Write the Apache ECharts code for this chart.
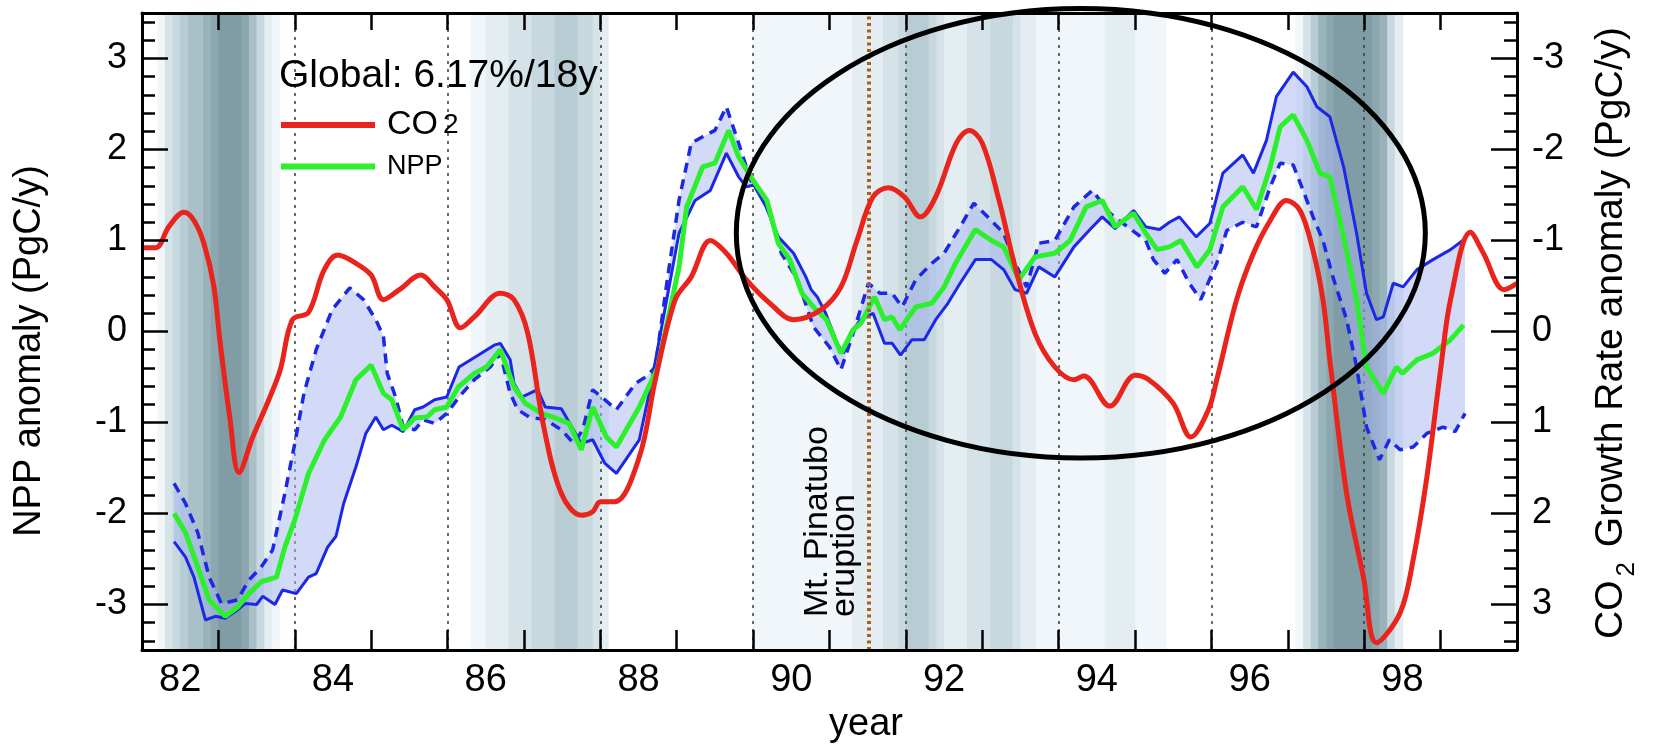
<!DOCTYPE html>
<html>
<head>
<meta charset="utf-8">
<title>Global NPP and CO2 growth rate anomaly</title>
<script src="https://cdn.jsdelivr.net/npm/echarts@6/dist/echarts.min.js"></script>
<style>
  html, body { margin: 0; padding: 0; background: #fff; }
  #chart { width: 1653px; height: 748px; }
</style>
</head>
<body>
<div id="chart"></div>
<script>
// values (years as 82..100, anomalies in PgC/y)
const co2Years = [82.00, 82.18, 82.35, 82.55, 82.68, 82.81, 82.94, 83.02, 83.15, 83.27, 83.45, 83.66, 83.81, 83.97, 84.18, 84.38, 84.56, 84.80, 85.00, 85.16, 85.37, 85.65, 85.83, 85.99, 86.17, 86.35, 86.69, 86.87, 87.05, 87.26, 87.49, 87.75, 87.90, 88.00, 88.19, 88.51, 88.72, 88.98, 89.19, 89.44, 89.65, 89.91, 90.22, 90.53, 90.89, 91.15, 91.36, 91.57, 91.77, 91.98, 92.19, 92.39, 92.66, 92.83, 93.00, 93.22, 93.43, 93.69, 93.95, 94.20, 94.33, 94.67, 95.00, 95.18, 95.50, 95.73, 95.96, 96.07, 96.33, 96.55, 96.77, 96.98, 97.16, 97.33, 97.46, 97.55, 97.77, 97.99, 98.16, 98.47, 98.64, 98.82, 99.00, 99.13, 99.39, 99.56, 99.83, 100.00];
// CO2 growth rate anomaly, right (inverted) axis
const co2Rate = [-0.92, -0.92, -1.15, -1.31, -1.22, -0.97, -0.50, 0.10, 0.95, 1.55, 1.16, 0.75, 0.42, -0.13, -0.21, -0.67, -0.84, -0.75, -0.62, -0.35, -0.46, -0.62, -0.49, -0.35, -0.04, -0.16, -0.42, -0.35, 0.02, 1.05, 1.78, 2.02, 1.98, 1.87, 1.87, 1.38, 0.53, -0.35, -0.60, -1.00, -0.86, -0.57, -0.31, -0.13, -0.24, -0.49, -1.00, -1.48, -1.58, -1.48, -1.26, -1.48, -2.07, -2.21, -2.07, -1.44, -0.71, 0.02, 0.39, 0.53, 0.49, 0.82, 0.48, 0.53, 0.79, 1.16, 0.86, 0.53, -0.35, -0.86, -1.22, -1.44, -1.33, -0.89, -0.35, 0.31, 1.78, 2.70, 3.42, 3.09, 2.51, 1.60, 0.42, -0.35, -1.09, -0.86, -0.46, -0.53];

const nppYears = [82.42, 82.57, 82.73, 82.88, 83.09, 83.25, 83.40, 83.56, 83.76, 83.87, 84.00, 84.18, 84.39, 84.60, 84.80, 85.00, 85.16, 85.27, 85.42, 85.57, 85.73, 85.83, 85.99, 86.14, 86.35, 86.51, 86.69, 86.87, 87.02, 87.23, 87.38, 87.59, 87.75, 87.90, 88.08, 88.21, 88.51, 88.75, 89.03, 89.13, 89.34, 89.50, 89.68, 89.81, 89.97, 90.18, 90.33, 90.48, 90.64, 90.79, 90.96, 91.15, 91.31, 91.41, 91.59, 91.72, 91.82, 91.92, 92.13, 92.34, 92.50, 92.65, 92.91, 93.12, 93.28, 93.48, 93.69, 93.95, 94.15, 94.36, 94.57, 94.74, 94.98, 95.14, 95.29, 95.45, 95.60, 95.81, 95.98, 96.15, 96.41, 96.59, 96.77, 96.90, 97.07, 97.25, 97.42, 97.55, 97.72, 97.90, 98.03, 98.25, 98.42, 98.50, 98.69, 98.90, 99.13, 99.30];
const nppAnomaly = [-2.00, -2.21, -2.59, -2.95, -3.13, -3.03, -2.88, -2.75, -2.70, -2.37, -2.07, -1.56, -1.19, -0.94, -0.53, -0.37, -0.68, -0.75, -1.08, -0.95, -0.94, -0.86, -0.83, -0.61, -0.46, -0.39, -0.20, -0.61, -0.79, -0.90, -0.94, -1.01, -1.30, -0.83, -1.16, -1.27, -0.83, -0.40, 0.71, 1.37, 1.81, 1.85, 2.21, 1.92, 1.70, 1.44, 0.97, 0.79, 0.42, 0.27, 0.13, -0.24, 0.02, 0.09, 0.38, 0.13, 0.16, 0.02, 0.27, 0.31, 0.49, 0.75, 1.12, 1.00, 0.93, 0.57, 0.82, 0.86, 1.00, 1.37, 1.44, 1.15, 1.30, 1.08, 0.90, 0.93, 1.00, 0.71, 0.90, 1.37, 1.59, 1.34, 1.81, 2.25, 2.38, 2.10, 1.74, 1.70, 1.08, 0.35, -0.39, -0.68, -0.39, -0.46, -0.31, -0.24, -0.09, 0.07];

// blue solid curve
const solidYears = [82.42, 82.57, 82.68, 82.83, 82.96, 83.09, 83.25, 83.35, 83.50, 83.58, 83.74, 83.84, 84.02, 84.18, 84.28, 84.43, 84.54, 84.64, 84.80, 84.93, 85.06, 85.16, 85.27, 85.42, 85.57, 85.68, 85.83, 85.99, 86.15, 86.40, 86.61, 86.69, 86.82, 86.87, 86.97, 87.18, 87.28, 87.49, 87.75, 87.90, 88.06, 88.21, 88.51, 88.66, 89.03, 89.24, 89.44, 89.65, 89.81, 89.91, 90.01, 90.17, 90.33, 90.53, 90.69, 90.76, 90.84, 90.95, 91.10, 91.18, 91.31, 91.41, 91.57, 91.72, 91.82, 91.93, 92.08, 92.24, 92.39, 92.55, 92.71, 92.91, 93.12, 93.28, 93.43, 93.58, 93.74, 93.95, 94.20, 94.41, 94.57, 94.74, 94.98, 95.14, 95.32, 95.45, 95.58, 95.80, 95.98, 96.15, 96.41, 96.55, 96.72, 96.85, 97.07, 97.25, 97.38, 97.55, 97.73, 97.90, 98.03, 98.16, 98.25, 98.38, 98.51, 98.69, 98.90, 99.13, 99.32];
const solidAnomaly = [-2.31, -2.48, -2.70, -3.17, -3.13, -3.15, -3.06, -2.99, -3.00, -2.91, -3.00, -2.84, -2.88, -2.70, -2.66, -2.37, -2.25, -1.89, -1.49, -1.12, -0.94, -1.08, -1.03, -1.10, -0.86, -0.83, -0.75, -0.72, -0.39, -0.26, -0.15, -0.13, -0.31, -0.57, -0.72, -0.64, -0.83, -0.85, -1.23, -1.19, -1.45, -1.56, -1.19, -0.60, 1.08, 1.44, 1.55, 1.96, 1.70, 1.59, 1.61, 1.37, 1.04, 0.86, 0.60, 0.46, 0.38, 0.20, -0.13, -0.24, 0.02, 0.13, 0.20, -0.13, -0.13, -0.26, -0.09, -0.09, 0.13, 0.31, 0.53, 0.79, 0.79, 0.68, 0.46, 0.42, 0.71, 0.60, 0.93, 1.12, 1.26, 1.13, 1.33, 1.15, 1.12, 1.20, 1.26, 1.04, 1.19, 1.74, 1.94, 1.74, 2.10, 2.58, 2.85, 2.69, 2.47, 2.36, 1.81, 1.08, 0.42, 0.13, 0.16, 0.53, 0.49, 0.68, 0.79, 0.90, 1.02];

// blue dashed curve
const dashYears = [82.42, 82.57, 82.73, 82.88, 83.04, 83.25, 83.40, 83.56, 83.71, 83.87, 84.00, 84.12, 84.28, 84.49, 84.72, 84.90, 85.06, 85.16, 85.21, 85.32, 85.42, 85.57, 85.68, 85.83, 85.99, 86.15, 86.35, 86.56, 86.69, 86.82, 86.92, 87.07, 87.28, 87.49, 87.65, 87.77, 87.90, 88.06, 88.21, 88.46, 88.61, 88.72, 88.87, 89.03, 89.19, 89.34, 89.50, 89.65, 89.81, 89.97, 90.18, 90.37, 90.58, 90.79, 91.00, 91.15, 91.31, 91.51, 91.66, 91.82, 91.95, 92.13, 92.34, 92.50, 92.71, 92.89, 93.07, 93.28, 93.43, 93.58, 93.74, 93.95, 94.20, 94.44, 94.67, 94.90, 95.14, 95.24, 95.39, 95.55, 95.71, 95.86, 96.07, 96.20, 96.41, 96.59, 96.77, 96.90, 97.07, 97.20, 97.33, 97.46, 97.59, 97.77, 97.90, 98.03, 98.20, 98.33, 98.47, 98.64, 98.82, 99.03, 99.19, 99.32];
const dashAnomaly = [-1.67, -1.89, -2.21, -2.70, -2.99, -2.95, -2.73, -2.59, -2.40, -1.78, -1.23, -0.68, -0.20, 0.24, 0.48, 0.35, 0.13, -0.05, -0.46, -0.72, -1.05, -1.08, -0.97, -1.01, -0.90, -0.72, -0.53, -0.39, -0.24, -0.68, -0.86, -0.94, -0.97, -1.08, -1.23, -1.08, -0.64, -0.75, -0.86, -0.57, -0.49, -0.39, 0.53, 1.44, 2.07, 2.14, 2.21, 2.47, 2.07, 1.66, 1.40, 0.86, 0.57, 0.05, -0.17, -0.42, -0.02, 0.53, 0.42, 0.42, 0.27, 0.57, 0.75, 0.86, 1.15, 1.41, 1.26, 1.08, 0.75, 0.49, 0.97, 1.00, 1.37, 1.55, 1.30, 1.15, 1.00, 0.79, 0.64, 0.79, 0.53, 0.35, 0.75, 1.11, 1.20, 1.15, 1.59, 1.85, 1.83, 1.55, 1.26, 1.00, 0.60, 0.13, -0.39, -1.05, -1.41, -1.19, -1.30, -1.27, -1.12, -1.05, -1.10, -0.90];

// ENSO shading: each band starts at shadeStart and runs in 0.1-year bins, level 0..9
const shadeStart = [82.2, 86.3, 90.0, 97.1];
const shadeLevels = [
  [1, 3, 4, 5, 6, 6, 7, 8, 9, 9, 9, 8, 6, 4, 2, 1],
  [1, 1, 2, 2, 2, 3, 3, 3, 4, 4, 4, 5, 5, 5, 4, 4, 3, 2],
  [1, 1, 1, 1, 1, 1, 1, 1, 1, 1, 1, 1, 1, 2, 2, 2, 2, 3, 3, 4, 5, 5, 5, 4, 3, 2, 2, 2, 3, 3, 3, 4, 4, 4, 3, 2, 2, 1, 1, 1, 1, 1, 1, 1, 1, 1, 2, 2, 2, 2, 1, 1, 1, 1],
  [1, 3, 5, 7, 8, 9, 9, 9, 9, 9, 8, 7, 4, 2]
];

// axis ticks and labels
const yearTicks = [83, 84, 85, 86, 87, 88, 89, 90, 91, 92, 93, 94, 95, 96, 97, 98, 99];
const yearLabelAt = [82.5, 84.5, 86.5, 88.5, 90.5, 92.5, 94.5, 96.5, 98.5];
const majorTicks = [-3, -2, -1, 0, 1, 2, 3];
const minorTicks = [-3.4, -3.2, -2.8, -2.6, -2.4, -2.2, -1.8, -1.6, -1.4, -1.2, -0.8, -0.6, -0.4, -0.2,
  0.2, 0.4, 0.6, 0.8, 1.2, 1.4, 1.6, 1.8, 2.2, 2.4, 2.6, 2.8, 3.2, 3.4];

const pinatuboYear = 91.52;
const ellipseCenter = [94.29, 1.08];
const ellipseRadius = [4.51, 2.47];

// ---- styling ----
const FONT = "'Liberation Sans', Arial, Helvetica, sans-serif";
const RED = '#e8241c';
const GREEN = '#2cf02c';
const BLUE = '#1c28e6';
const shadePalette = ['#ffffff', '#f0f6fa', '#e3edf2', '#d5e3e9', '#c7d8df', '#b8ccd4', '#a9c0c8', '#9ab3bb', '#8ca7af', '#809ca4'];

const zip = (xs, ys) => xs.map((x, i) => [x, ys[i]]);

const shadeData = [];
shadeStart.forEach((s, j) => {
  shadeLevels[j].forEach((lvl, k) => {
    if (lvl > 0) shadeData.push([Math.round((s + 0.1 * k) * 100) / 100, 0, lvl]);
  });
});

function shadeRect(params, api) {
  const x0 = api.value(0);
  const a = api.coord([x0, 3.5]);
  const b = api.coord([x0 + 0.1, -3.5]);
  return {
    type: 'rect',
    shape: { x: a[0], y: a[1], width: b[0] - a[0] + 0.8, height: b[1] - a[1] },
    style: { fill: shadePalette[api.value(2)] },
    silent: true
  };
}

// light fill between the solid and dashed blue curves
function rangePolygon(params, api) {
  const pts = [];
  for (let i = 0; i < solidYears.length; i++) pts.push(api.coord([solidYears[i], solidAnomaly[i]]));
  for (let i = dashYears.length - 1; i >= 0; i--) pts.push(api.coord([dashYears[i], dashAnomaly[i]]));
  return { type: 'polygon', shape: { points: pts }, style: { fill: 'rgba(168,184,240,0.52)' }, silent: true };
}

const frameLine = { show: true, onZero: false, lineStyle: { color: '#000', width: 3 } };
const tickLine = { color: '#000', width: 2.5 };

const chart = echarts.init(document.getElementById('chart'), null, { renderer: 'canvas' });

chart.setOption({
  animation: false,
  backgroundColor: '#fff',
  textStyle: { fontFamily: FONT },
  grid: { left: 142, right: 136, top: 13, bottom: 98, containLabel: false, outerBoundsMode: 'none' },
  title: {
    text: 'Global: 6.17%/18y',
    left: 279, top: 57, padding: 0,
    textStyle: { fontFamily: FONT, fontSize: 39, fontWeight: 'normal', color: '#000' }
  },
  legend: {
    orient: 'vertical', left: 281, top: 108, padding: 0,
    itemWidth: 94, itemHeight: 6, itemGap: 11,
    icon: 'rect', selectedMode: false,
    data: ['CO2', 'NPP'],
    formatter: name => (name === 'CO2' ? '{co|CO}{sub|2}' : '{npp|NPP}'),
    textStyle: {
      fontFamily: FONT, color: '#000', padding: [0, 0, 0, 7],
      rich: {
        co: { fontFamily: FONT, fontSize: 34, lineHeight: 40, color: '#000' },
        sub: { fontFamily: FONT, fontSize: 28, lineHeight: 40, color: '#000', padding: [0, 0, 0, 5] },
        npp: { fontFamily: FONT, fontSize: 27, lineHeight: 32, color: '#000' }
      }
    }
  },
  xAxis: [
    {
      type: 'value', position: 'bottom', min: 82, max: 100, interval: 1, z: 10,
      axisLine: frameLine,
      axisTick: { show: true, inside: true, length: 20, customValues: yearTicks, lineStyle: tickLine },
      axisLabel: {
        customValues: yearLabelAt, formatter: v => String(Math.floor(v)),
        fontFamily: FONT, fontSize: 38, color: '#000', margin: 12
      },
      splitLine: { show: false }
    },
    {
      type: 'value', position: 'top', min: 82, max: 100, interval: 1, z: 10,
      axisLine: frameLine,
      axisTick: { show: true, inside: true, length: 17, customValues: yearTicks, lineStyle: tickLine },
      axisLabel: { show: false },
      splitLine: { show: false }
    },
    {
      type: 'value', position: 'bottom', min: 82, max: 100, interval: 2, z: 1,
      axisLine: { show: false }, axisTick: { show: false }, axisLabel: { show: false },
      splitLine: { show: true, lineStyle: { color: '#3a3a3a', width: 1.5, type: [3, 5] } }
    }
  ],
  yAxis: [
    {
      type: 'value', position: 'left', min: -3.5, max: 3.5, z: 10,
      axisLine: frameLine,
      axisTick: { show: true, inside: true, length: 26, customValues: majorTicks, lineStyle: tickLine },
      axisLabel: { customValues: majorTicks, fontFamily: FONT, fontSize: 36, color: '#000', margin: 15 },
      splitLine: { show: false }
    },
    {
      type: 'value', position: 'right', inverse: true, min: -3.5, max: 3.5, z: 10,
      axisLine: frameLine,
      axisTick: { show: true, inside: true, length: 26, customValues: majorTicks, lineStyle: tickLine },
      axisLabel: { customValues: majorTicks, fontFamily: FONT, fontSize: 36, color: '#000', margin: 15 },
      splitLine: { show: false }
    },
    {
      type: 'value', position: 'left', min: -3.5, max: 3.5, z: 10,
      axisLine: { show: false },
      axisTick: { show: true, inside: true, length: 13, customValues: minorTicks, lineStyle: tickLine },
      axisLabel: { show: false }, splitLine: { show: false }
    },
    {
      type: 'value', position: 'right', min: -3.5, max: 3.5, z: 10,
      axisLine: { show: false },
      axisTick: { show: true, inside: true, length: 13, customValues: minorTicks, lineStyle: tickLine },
      axisLabel: { show: false }, splitLine: { show: false }
    }
  ],
  series: [
    {
      name: 'ENSO', type: 'custom', renderItem: shadeRect, data: shadeData,
      encode: { x: 0, y: 1 }, z: 0, silent: true
    },
    {
      name: 'range', type: 'custom', renderItem: rangePolygon, data: [[90, 0]],
      encode: { x: 0, y: 1 }, z: 2, silent: true
    },
    {
      name: 'NPP dashed', type: 'line', data: zip(dashYears, dashAnomaly),
      symbol: 'none', z: 3, silent: true,
      lineStyle: { color: BLUE, width: 3.5, type: [10, 7] }, itemStyle: { color: BLUE },
      markLine: {
        silent: true, symbol: ['none', 'none'], animation: false,
        lineStyle: { color: '#a8621c', width: 4, type: [3, 3.5] },
        label: {
          show: true, position: 'insideStartTop', distance: [33, 11],
          formatter: 'Mt. Pinatubo\neruption',
          fontFamily: FONT, fontSize: 34, lineHeight: 27, color: '#000'
        },
        data: [{ xAxis: pinatuboYear }]
      }
    },
    {
      name: 'NPP solid', type: 'line', data: zip(solidYears, solidAnomaly),
      symbol: 'none', z: 3, silent: true,
      lineStyle: { color: BLUE, width: 3 }, itemStyle: { color: BLUE }
    },
    {
      name: 'NPP', type: 'line', data: zip(nppYears, nppAnomaly),
      symbol: 'none', z: 4, silent: true,
      lineStyle: { color: GREEN, width: 5 }, itemStyle: { color: GREEN }
    },
    {
      name: 'CO2', type: 'line', yAxisIndex: 1, data: zip(co2Years, co2Rate),
      symbol: 'none', smooth: 0.35, z: 5, silent: true,
      lineStyle: { color: RED, width: 5 }, itemStyle: { color: RED }
    }
  ]
});

// axis titles and the highlight ellipse
const c = chart.convertToPixel({ xAxisIndex: 0, yAxisIndex: 0 }, ellipseCenter);
const e = chart.convertToPixel({ xAxisIndex: 0, yAxisIndex: 0 },
  [ellipseCenter[0] + ellipseRadius[0], ellipseCenter[1] + ellipseRadius[1]]);

chart.setOption({
  graphic: [
    {
      type: 'text', x: 30, y: 351, rotation: Math.PI / 2, z: 20,
      style: { text: 'NPP anomaly (PgC/y)', font: '38px ' + FONT, fill: '#000', align: 'center', verticalAlign: 'middle' }
    },
    {
      type: 'text', x: 1620, y: 333, rotation: Math.PI / 2, z: 20,
      style: {
        text: '{b|CO}{s|2}{b| Growth Rate anomaly (PgC/y)}',
        align: 'center', verticalAlign: 'middle', fill: '#000',
        rich: {
          b: { fontFamily: FONT, fontSize: 39, lineHeight: 40, padding: [0, 0, 18, 0], fill: '#000' },
          s: { fontFamily: FONT, fontSize: 26, lineHeight: 26, verticalAlign: 'bottom', padding: [0, 4, 0, 4], fill: '#000' }
        }
      }
    },
    {
      type: 'text', x: 866, y: 725, z: 20,
      style: { text: 'year', font: '38px ' + FONT, fill: '#000', align: 'center', verticalAlign: 'middle' }
    },
    {
      type: 'ellipse', z: 50, silent: true,
      shape: { cx: c[0], cy: c[1], rx: e[0] - c[0], ry: c[1] - e[1] },
      style: { fill: 'none', stroke: '#000', lineWidth: 5 }
    }
  ]
});
</script>
</body>
</html>
